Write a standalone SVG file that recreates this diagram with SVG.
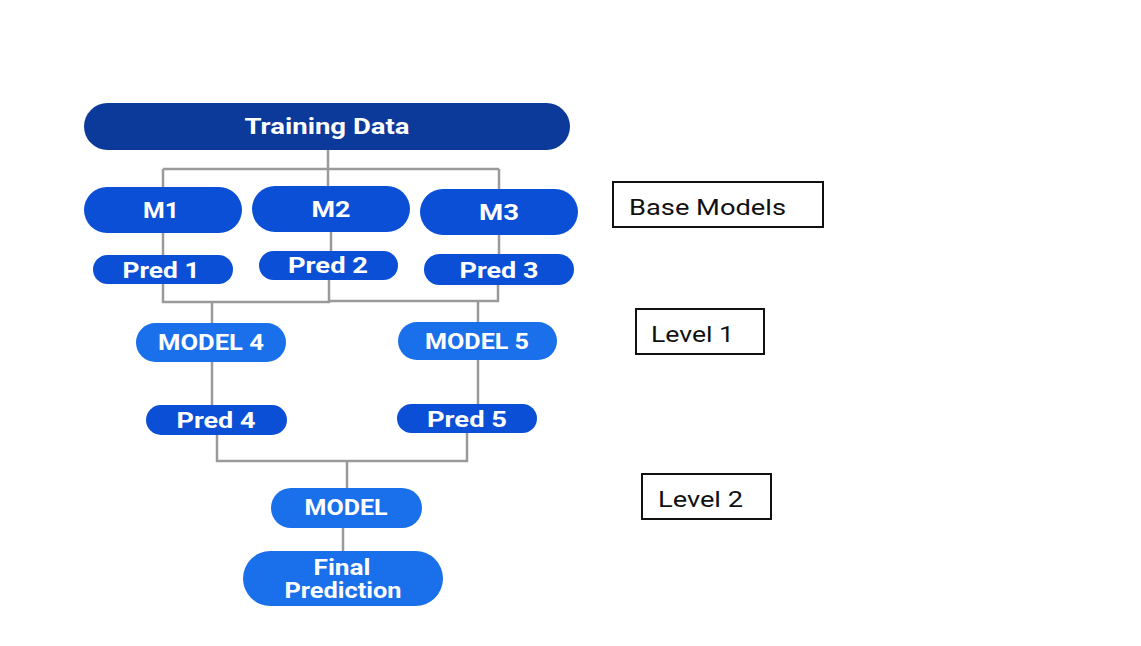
<svg xmlns="http://www.w3.org/2000/svg" width="1141" height="646" viewBox="0 0 1141 646">
<style>
.t{font-family:Roboto,"Liberation Sans",sans-serif;font-weight:bold;fill:#fff;text-anchor:middle;font-size:22px}
.l{font-family:Roboto,"Liberation Sans",sans-serif;fill:#111;font-size:22px}
.lb{fill:#fff;stroke:#111;stroke-width:2}
.c{fill:none;stroke:#9a9a9a;stroke-width:2.5}
.navy{fill:#0b3a9b}
.dk{fill:#0a4fd6}
.lt{fill:#1a6feb}
</style>
<rect width="1141" height="646" fill="#fff"/>
<g id="connectors">
<path class="c" d="M328 150V169M163 169H499M163 169V187M328 169V186M499 169V189"/>
<path class="c" d="M163 232V255M331 232V251M499 234V254"/>
<path class="c" d="M163 283V302H329V280M329 301H498V285M212 301V323M478 301V322"/>
<path class="c" d="M212 362V405M478 359V404"/>
<path class="c" d="M217 435V461H467V433M347 461V488M343 528V552"/>
</g>
<g id="training"><rect class="navy" x="84" y="103" width="486" height="47" rx="23.5"/><text class="t" x="327" y="134" textLength="165" lengthAdjust="spacingAndGlyphs">Training Data</text></g>
<g id="m1"><rect class="dk" x="84" y="187" width="158" height="46" rx="23"/><text class="t" x="161" y="218" textLength="36" lengthAdjust="spacingAndGlyphs">M1</text></g>
<g id="m2"><rect class="dk" x="252" y="186" width="158" height="46" rx="23"/><text class="t" x="331" y="217" textLength="39" lengthAdjust="spacingAndGlyphs">M2</text></g>
<g id="m3"><rect class="dk" x="420" y="189" width="158" height="46" rx="23"/><text class="t" x="499" y="220" textLength="40" lengthAdjust="spacingAndGlyphs">M3</text></g>
<g id="pred1"><rect class="dk" x="93" y="255" width="140" height="29" rx="14.5"/><text class="t" x="161" y="278" textLength="77" lengthAdjust="spacingAndGlyphs">Pred 1</text></g>
<g id="pred2"><rect class="dk" x="259" y="251" width="139" height="29" rx="14.5"/><text class="t" x="328" y="273" textLength="80" lengthAdjust="spacingAndGlyphs">Pred 2</text></g>
<g id="pred3"><rect class="dk" x="424" y="254" width="150" height="31" rx="15.5"/><text class="t" x="499" y="278" textLength="79" lengthAdjust="spacingAndGlyphs">Pred 3</text></g>
<g id="model4"><rect class="lt" x="136" y="323" width="150" height="39" rx="19.5"/><text class="t" x="211" y="350" textLength="106" lengthAdjust="spacingAndGlyphs">MODEL 4</text></g>
<g id="model5"><rect class="lt" x="398" y="322" width="159" height="38" rx="19"/><text class="t" x="477" y="349" textLength="104" lengthAdjust="spacingAndGlyphs">MODEL 5</text></g>
<g id="pred4"><rect class="dk" x="146" y="405" width="141" height="30" rx="15"/><text class="t" x="216" y="428" textLength="79" lengthAdjust="spacingAndGlyphs">Pred 4</text></g>
<g id="pred5"><rect class="dk" x="397" y="404" width="140" height="29" rx="14.5"/><text class="t" x="467" y="427" textLength="80" lengthAdjust="spacingAndGlyphs">Pred 5</text></g>
<g id="model"><rect class="lt" x="271" y="488" width="151" height="40" rx="20"/><text class="t" x="346" y="515" font-size="18" textLength="83" lengthAdjust="spacingAndGlyphs">MODEL</text></g>
<g id="final"><rect class="lt" x="243" y="551" width="200" height="55" rx="27.5"/><text class="t" x="342" y="575" textLength="57" lengthAdjust="spacingAndGlyphs">Final</text><text class="t" x="343" y="598" textLength="117" lengthAdjust="spacingAndGlyphs">Prediction</text></g>
<g id="base-models"><rect class="lb" x="613" y="182" width="210" height="45"/><text class="l" x="629" y="215" textLength="157" lengthAdjust="spacingAndGlyphs">Base Models</text></g>
<g id="level1"><rect class="lb" x="636" y="309" width="128" height="45"/><text class="l" x="651" y="342" textLength="83" lengthAdjust="spacingAndGlyphs">Level 1</text></g>
<g id="level2"><rect class="lb" x="642" y="474" width="129" height="45"/><text class="l" x="658" y="507" textLength="85" lengthAdjust="spacingAndGlyphs">Level 2</text></g>
</svg>
